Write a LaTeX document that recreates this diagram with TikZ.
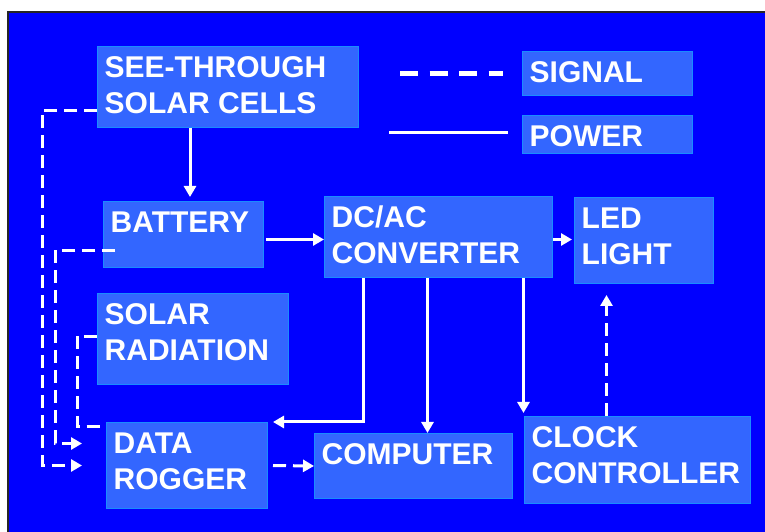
\documentclass[tikz,border=0pt]{standalone}
\usepackage{fontspec}
\setmainfont{Liberation Sans}
\usetikzlibrary{positioning,arrows.meta,calc}
\definecolor{sky}{HTML}{0000FF}
\definecolor{panel}{HTML}{3366FF}
\definecolor{edge}{HTML}{1A8CFF}

\begin{document}
\begin{tikzpicture}[x=1pt,y=1pt,
    blk/.style={draw=edge,line width=1pt,fill=panel,inner sep=0pt,anchor=north west},
    lbl/.style={font=\fontsize{30}{36}\selectfont\bfseries,text=white,align=left,inner sep=0pt,anchor=north west},
    pw/.style={white,line width=3pt,-{Triangle[width=12pt,length=11pt]}},
    sg/.style={pw,dash pattern=on 13pt off 7pt}]
  \useasboundingbox (0,0) rectangle (765,532);
  \fill[sky] (8,0) rectangle (765,520);
  \draw[black!85,line width=2pt] (8,0) -- (8,520) -- (765,520);
  \foreach \n/\x/\y/\w/\h/\t in {sc/97/486/261/81/{SEE-THROUGH\\SOLAR CELLS},
      bat/103/331/160/66/{BATTERY},conv/324/336/228/81/{DC/AC\\CONVERTER},
      led/574/335/139/86/{LED\\LIGHT},sig/522/481/170/44/{SIGNAL},pow/522/417/170/38/{POWER},
      rad/97/239/191/91/{SOLAR\\RADIATION},dl/106/110/161/86/{DATA\\ROGGER},
      comp/314/99/198/65/{COMPUTER},clk/524/116/226/87/{CLOCK\\CONTROLLER}}
    {\node[blk,minimum width=\w pt,minimum height=\h pt] (\n) at (\x,\y) {};
     \node[lbl] (\n-t) at ([xshift=7.5pt,yshift=-5.8pt]\n.north west) {\strut\t};}
  \draw[sg,-,line width=5pt,dash pattern=on 18pt off 11.5pt] ([xshift=-122pt]sig.west) -- ([xshift=-19pt]sig.west);
  \draw[pw,-] ([xshift=-133pt,yshift=2pt]pow.west) -- ([xshift=-14pt,yshift=2pt]pow.west);
  \draw[pw,shorten >=4pt] ([xshift=93pt]sc.south west) -- ([xshift=87pt]bat.north west);
  \draw[pw] ([xshift=2pt,yshift=-5pt]bat.east) -- ([yshift=-5pt]bat.east -| conv.west);
  \draw[pw,shorten >=2pt] ([yshift=-2.5pt]conv.east) -- ([yshift=-2.5pt]conv.east -| led.west);
  \draw[pw] ([xshift=39pt]conv.south west) |- ([xshift=5pt]dl.north east);
  \draw[pw] ([xshift=-11pt]conv.south) -- ([xshift=14pt]comp.north);
  \draw[pw,shorten >=3pt] ([xshift=85pt]conv.south) -- ([xshift=-114pt]clk.north);
  \draw[sg,shorten >=11pt] ([xshift=-31pt]clk.north) -- ([xshift=-37.5pt]led.south);
  \draw[sg] ([xshift=5pt]dl.east) -- (comp.west);
  \draw[sg] ([yshift=-23.5pt]sc.west) -| ([xshift=-64pt]dl.west) -- ([xshift=-24pt]dl.west);
  \draw[sg] ([xshift=12pt,yshift=-16pt]bat.west) -| ([xshift=-51pt,yshift=22pt]dl.west) -- ([xshift=-24pt,yshift=22pt]dl.west);
  \draw[sg,-] ([yshift=2.5pt]rad.west) -| ([xshift=-29pt,yshift=-5pt]dl.north west) -- ([yshift=-5pt]dl.north west);
\end{tikzpicture}
\end{document}
